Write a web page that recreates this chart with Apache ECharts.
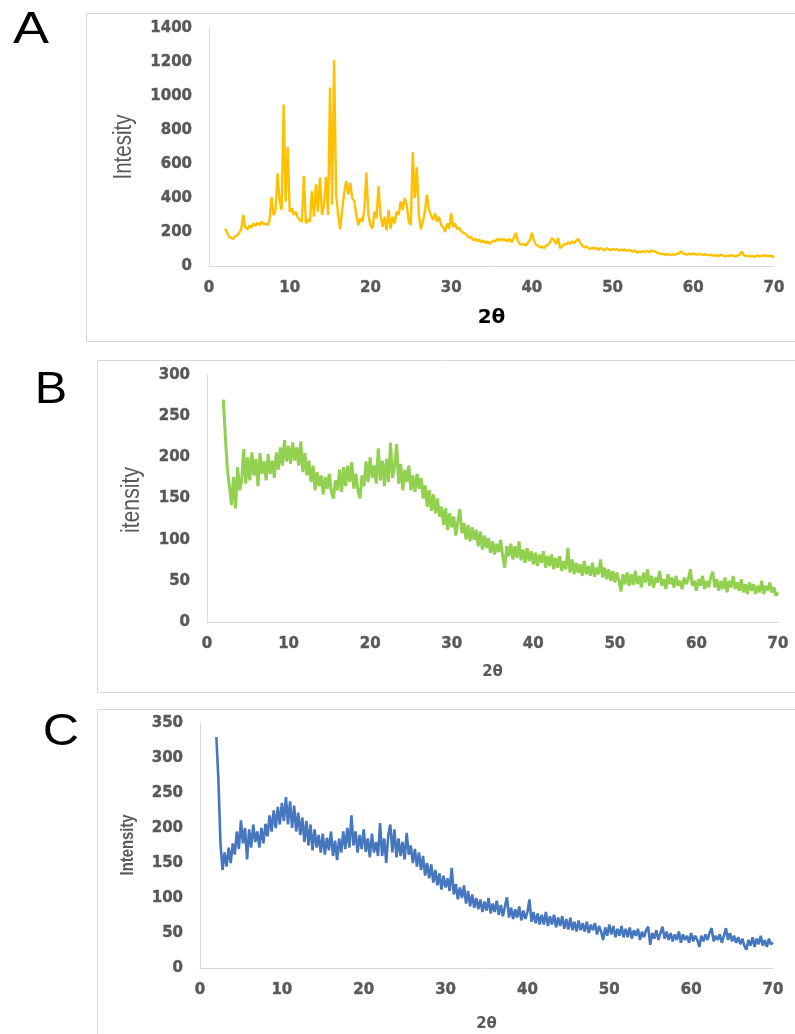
<!DOCTYPE html>
<html>
<head>
<meta charset="utf-8">
<script src="https://cdn.jsdelivr.net/npm/echarts@6/dist/echarts.min.js"></script>
<style>
html,body{margin:0;padding:0;background:#fff;}
#chart{width:795px;height:1034px;}
</style>
</head>
<body>
<div id="chart"></div>
<script>
// 2θ scan grid shared by the three patterns
const twoTheta = [
2,2.25,2.5,2.75,3,3.25,3.5,3.75,4,4.25,4.5,4.75,5,5.25,5.5,5.75,6,6.25,6.5,6.75,
7,7.25,7.5,7.75,8,8.25,8.5,8.75,9,9.25,9.5,9.75,10,10.25,10.5,10.75,11,11.25,11.5,11.75,
12,12.25,12.5,12.75,13,13.25,13.5,13.75,14,14.25,14.5,14.75,15,15.25,15.5,15.75,16,16.25,16.5,16.75,
17,17.25,17.5,17.75,18,18.25,18.5,18.75,19,19.25,19.5,19.75,20,20.25,20.5,20.75,21,21.25,21.5,21.75,
22,22.25,22.5,22.75,23,23.25,23.5,23.75,24,24.25,24.5,24.75,25,25.25,25.5,25.75,26,26.25,26.5,26.75,
27,27.25,27.5,27.75,28,28.25,28.5,28.75,29,29.25,29.5,29.75,30,30.25,30.5,30.75,31,31.25,31.5,31.75,
32,32.25,32.5,32.75,33,33.25,33.5,33.75,34,34.25,34.5,34.75,35,35.25,35.5,35.75,36,36.25,36.5,36.75,
37,37.25,37.5,37.75,38,38.25,38.5,38.75,39,39.25,39.5,39.75,40,40.25,40.5,40.75,41,41.25,41.5,41.75,
42,42.25,42.5,42.75,43,43.25,43.5,43.75,44,44.25,44.5,44.75,45,45.25,45.5,45.75,46,46.25,46.5,46.75,
47,47.25,47.5,47.75,48,48.25,48.5,48.75,49,49.25,49.5,49.75,50,50.25,50.5,50.75,51,51.25,51.5,51.75,
52,52.25,52.5,52.75,53,53.25,53.5,53.75,54,54.25,54.5,54.75,55,55.25,55.5,55.75,56,56.25,56.5,56.75,
57,57.25,57.5,57.75,58,58.25,58.5,58.75,59,59.25,59.5,59.75,60,60.25,60.5,60.75,61,61.25,61.5,61.75,
62,62.25,62.5,62.75,63,63.25,63.5,63.75,64,64.25,64.5,64.75,65,65.25,65.5,65.75,66,66.25,66.5,66.75,
67,67.25,67.5,67.75,68,68.25,68.5,68.75,69,69.25,69.5,69.75,70
];

const intensityA = [
220,195,172,165,160,175,180,195,215,300,230,215,240,225,250,235,255,240,262,245,
250,240,270,405,300,330,545,380,330,950,380,700,320,340,300,320,285,270,260,530,
250,275,260,440,290,480,320,520,300,360,525,300,1050,360,1210,420,300,215,330,430,
500,420,490,400,380,300,240,280,260,330,550,300,240,220,320,280,470,300,230,290,
210,330,220,290,250,320,300,380,330,400,360,260,240,670,400,580,300,215,260,320,
420,330,300,270,310,260,290,240,230,200,250,220,310,230,250,215,225,205,195,190,
180,165,170,150,160,145,155,140,150,135,145,130,140,150,145,160,150,160,150,155,
145,160,140,165,195,150,130,125,130,120,135,150,195,150,125,120,110,115,105,120,
125,140,165,150,130,165,105,115,130,125,140,130,145,135,150,160,135,120,110,115,
105,100,110,100,108,95,105,100,90,105,98,92,100,95,100,90,96,92,98,88,
95,90,85,92,78,85,80,88,82,90,80,92,85,88,78,75,70,72,66,70,
68,64,70,66,72,75,86,74,70,66,72,68,74,70,66,72,68,64,70,66,
62,66,60,64,58,62,66,60,56,62,58,64,60,55,62,66,84,64,58,60,
56,60,54,58,62,56,60,64,58,62,56,60,52
];

const intensityB = [
270,225,185,165,142,176,138,188,160,172,210,168,200,172,206,178,198,165,205,180,
195,172,204,180,196,175,206,185,212,190,221,195,214,192,218,196,212,190,219,182,
205,178,196,170,190,160,182,165,178,155,176,162,180,158,150,172,160,185,158,188,
165,190,170,194,162,180,160,150,178,165,195,170,200,175,190,168,211,172,196,165,
198,170,218,175,190,216,168,192,160,185,170,190,160,178,158,180,162,175,150,166,
140,160,135,155,132,150,128,140,118,138,112,132,115,128,105,122,137,108,120,100,
118,98,115,100,112,92,110,88,105,90,102,84,98,82,95,85,100,80,66,92,
80,95,76,92,78,98,75,88,72,90,74,86,70,84,68,82,72,86,66,80,
68,82,64,78,66,80,62,74,64,90,60,76,58,72,60,70,56,74,58,68,
56,72,55,66,58,76,54,66,52,64,50,62,48,60,50,37,58,46,60,44,
58,45,62,46,56,42,60,48,64,44,56,42,54,48,62,44,52,40,58,46,
54,42,56,44,50,40,54,46,52,64,44,50,38,52,44,56,40,50,42,54,
61,42,52,38,50,40,54,36,50,42,56,40,48,38,52,36,46,34,48,38,
46,34,44,36,50,34,44,38,48,36,42,32,36
];

const intensityC = [
330,268,178,140,165,145,172,150,178,162,195,170,211,178,200,155,198,172,205,180,
195,172,200,178,206,188,218,195,225,200,230,205,236,210,244,205,238,200,232,195,
222,190,215,180,210,175,205,168,198,172,190,165,192,162,186,168,195,160,182,154,
185,165,195,170,200,172,218,175,195,165,190,170,198,166,185,158,192,165,180,160,
207,160,185,150,190,205,165,198,158,185,160,180,155,193,162,175,150,170,145,165,
140,160,132,150,128,148,122,140,118,135,112,132,115,128,110,143,105,120,98,115,
100,118,92,110,88,105,86,100,84,98,80,95,82,100,78,92,80,96,76,90,
74,88,101,72,86,70,84,72,88,68,82,70,80,98,66,80,64,78,62,76,
62,80,60,74,62,76,58,72,60,74,56,70,55,72,54,66,52,68,54,64,
52,66,50,62,54,64,48,60,52,40,58,46,62,48,60,44,56,46,60,44,
56,44,58,42,54,46,56,40,52,44,54,59,33,50,42,54,40,50,59,42,
52,40,50,38,48,40,52,36,48,40,46,36,50,38,46,40,30,46,38,48,
40,50,57,38,46,40,48,36,46,57,40,50,38,46,36,44,34,42,32,26,
40,32,44,30,42,34,46,32,40,30,42,34,36
];

// tick labels
const xTicks = [0,10,20,30,40,50,60,70];
const yTicksA = [0,200,400,600,800,1000,1200,1400];
const yTicksB = [0,50,100,150,200,250,300];
const yTicksC = [0,50,100,150,200,250,300,350];

const panelLetters = ['A','B','C'];
const yNames = ['Intesity','itensity','Intensity'];
const xName = '2θ';

const chart = echarts.init(document.getElementById('chart'), null, {renderer:'canvas'});

const tickFont = {fontFamily:'DejaVu Sans', fontWeight:'bold', fontSize:15, color:'#595959',
  textBorderColor:'#595959', textBorderWidth:0.4, formatter:v => String(v)};
const axisGray = '#d9d9d9';

function xAxisDef(gridIndex, nameGap, nameStyle) {
  return {
    type:'value', gridIndex, min:xTicks[0], max:xTicks[xTicks.length-1], interval:xTicks[1]-xTicks[0],
    axisLine:{show:true, onZero:false, lineStyle:{color:axisGray, width:1}},
    axisTick:{show:false}, splitLine:{show:false},
    axisLabel:Object.assign({margin:15}, tickFont),
    name:xName, nameLocation:'middle', nameGap, nameTextStyle:nameStyle
  };
}
function yAxisDef(gridIndex, ticks) {
  return {
    type:'value', gridIndex, min:ticks[0], max:ticks[ticks.length-1], interval:ticks[1]-ticks[0],
    axisLine:{show:true, lineStyle:{color:axisGray, width:1}},
    axisTick:{show:false}, splitLine:{show:false},
    axisLabel:Object.assign({margin:17}, tickFont)
  };
}

function yNameText(text, x, y, size, weight, sx) {
  return {type:'text', x, y, rotation:Math.PI/2, scaleX:sx, silent:true,
    style:{text, fontFamily:'Liberation Sans', fontWeight:weight, fontSize:size, fill:'#595959',
      textAlign:'center', textVerticalAlign:'middle'}};
}
function letterText(text, x, y, sx) {
  return {type:'text', x, y, scaleX:sx, silent:true,
    style:{text, fontFamily:'Liberation Sans', fontSize:45, fill:'#000',
      textAlign:'center', textVerticalAlign:'middle'}};
}

const option = {
  animation:false,
  backgroundColor:'#ffffff',
  grid:[
    {left:209, top:28, width:565, height:238},
    {left:207, top:375, width:571, height:247},
    {left:200, top:723, width:573, height:245}
  ],
  xAxis:[
    xAxisDef(0, 42, {fontFamily:'DejaVu Sans', fontWeight:'bold', fontSize:20, color:'#000000'}),
    xAxisDef(1, 43, {fontFamily:'DejaVu Sans', fontWeight:'bold', fontSize:15, color:'#595959'}),
    xAxisDef(2, 49, {fontFamily:'DejaVu Sans', fontWeight:'bold', fontSize:15, color:'#595959'})
  ],
  yAxis:[
    yAxisDef(0, yTicksA),
    yAxisDef(1, yTicksB),
    yAxisDef(2, yTicksC)
  ],
  graphic:[
    {type:'rect', shape:{x:86.5, y:13.5, width:760, height:328}, style:{fill:null, stroke:'#d9d9d9', lineWidth:1}, silent:true},
    {type:'rect', shape:{x:97.5, y:360.5, width:760, height:332}, style:{fill:null, stroke:'#d9d9d9', lineWidth:1}, silent:true},
    {type:'rect', shape:{x:97.5, y:709.5, width:760, height:400}, style:{fill:null, stroke:'#d9d9d9', lineWidth:1}, silent:true},
    letterText(panelLetters[0], 31, 31, 1.2),
    letterText(panelLetters[1], 51, 391, 1.08),
    letterText(panelLetters[2], 61, 733, 1.12),
    yNameText(yNames[0], 124, 147, 25, 'normal', 0.82),
    yNameText(yNames[1], 132, 500, 25, 'normal', 0.85),
    yNameText(yNames[2], 128, 845, 19, 'bold', 0.78)
  ],
  series:[
    {type:'line', xAxisIndex:0, yAxisIndex:0, showSymbol:false, symbol:'none',
     lineStyle:{color:'#FFC000', width:2.4}, data:twoTheta.map((x,i)=>[x,intensityA[i]])},
    {type:'line', xAxisIndex:1, yAxisIndex:1, showSymbol:false, symbol:'none',
     lineStyle:{color:'#92D050', width:3}, data:twoTheta.map((x,i)=>[x,intensityB[i]])},
    {type:'line', xAxisIndex:2, yAxisIndex:2, showSymbol:false, symbol:'none',
     lineStyle:{color:'#4677BE', width:2.6}, data:twoTheta.map((x,i)=>[x,intensityC[i]])}
  ]
};
chart.setOption(option);
</script>
</body>
</html>
